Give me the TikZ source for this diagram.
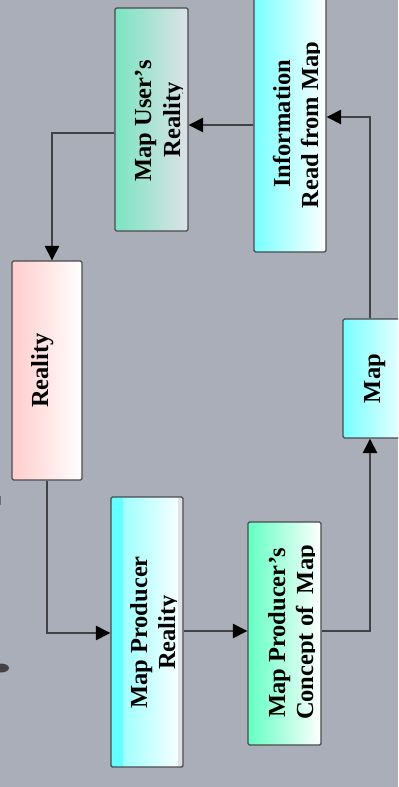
\documentclass[tikz,border=0pt]{standalone}
\usepackage{fontspec}
\setmainfont{Liberation Serif}
\usetikzlibrary{arrows.meta}
\definecolor{bg}{RGB}{170,174,185}
\definecolor{edge}{RGB}{74,74,78}
\definecolor{wire}{RGB}{66,66,70}
\definecolor{murL}{RGB}{122,228,194}
\definecolor{murR}{RGB}{222,226,230}
\definecolor{cyL}{RGB}{120,255,255}
\definecolor{cyStrip}{RGB}{100,255,255}
\definecolor{cyL2}{RGB}{140,255,255}
\definecolor{greyStrip}{RGB}{222,226,232}
\definecolor{pinkL}{RGB}{255,205,205}
\definecolor{aquaL}{RGB}{100,255,195}
\begin{document}
\begin{tikzpicture}[x=1bp,y=-1bp,
  boxsty/.style={draw=edge, line width=1.4bp, rounded corners=1.5bp, inner sep=0pt},
  lbl/.style={font=\fontsize{24.5bp}{29bp}\selectfont\bfseries, inner sep=0pt, text=black, rotate=90, anchor=base},
  arr/.style={draw=wire, line width=1.4bp, -{Triangle[length=14.5bp,width=14.5bp,color=black]}}]
\clip (0,0) rectangle (398,787);
\fill[bg] (0,0) rectangle (398,787);
% stray marks at left edge
\fill[wire] (1,668) ellipse [x radius=8bp, y radius=4.5bp];
\draw[wire!60!bg, line width=1bp] (0.5,496) -- (0.5,505);
% boxes
\node[boxsty, minimum width=73bp, minimum height=223bp, left color=murL, right color=murR] (mur) at (151.5,119.5) {};
\node[boxsty, minimum width=72bp, minimum height=258bp, left color=cyL, right color=white] (info) at (290,123) {};
\node[boxsty, minimum width=70bp, minimum height=219bp, left color=pinkL, right color=white] (real) at (47,370.5) {};
\node[boxsty, minimum width=72bp, minimum height=270bp, left color=cyL2, right color=white,
  path picture={
    \fill[cyStrip] (path picture bounding box.south west) rectangle ([xshift=12bp]path picture bounding box.north west);
    \fill[greyStrip] ([xshift=-5bp]path picture bounding box.south east) rectangle (path picture bounding box.north east);
  }] (mpr) at (147,632) {};
\node[boxsty, minimum width=73bp, minimum height=223bp, left color=aquaL, right color=white] (mpc) at (284.5,633.5) {};
\node[boxsty, minimum width=70bp, minimum height=119bp, left color=cyL, right color=white] (map) at (378,378.5) {};
% texts
\begin{scope}
  \clip (110,0) rectangle (182.5,240);
  \node[lbl] (mur-a) at (151,121) {Map User’s};
  \node[lbl] (mur-b) at (180,120) {Reality};
\end{scope}
\begin{scope}
  \clip (250,0) rectangle (319.5,260);
  \node[lbl] (info-a) at (290,124) {Information};
  \node[lbl] (info-b) at (318,125) {Read from Map};
\end{scope}
\node[lbl] (real-a) at (48,370.5) {Reality};
\begin{scope}
  \clip (105,490) rectangle (176.5,775);
  \node[lbl] (mpr-a) at (147,632.5) {Map Producer};
  \node[lbl] (mpr-b) at (175,632.5) {Reality};
\end{scope}
\begin{scope}
  \clip (240,515) rectangle (314.5,750);
  \node[lbl] (mpc-a) at (285,633) {Map Producer’s};
  \node[lbl] (mpc-b) at (313,632.5) {Concept of\ \ Map};
\end{scope}
\node[lbl] (map-a) at (380,378.5) {Map};
% connectors
\coordinate (k1) at (52,133);
\coordinate (k2) at (220,125);
\coordinate (k3) at (47,633);
\coordinate (k4) at (215,631);
\coordinate (k5) at (370,631);
\coordinate (k6) at (370,117);
\draw[arr] (info.west |- k2) -- (mur.east |- k2);
\draw[arr] (mur.west |- k1) -| (real.north -| k1);
\draw[arr] (real.south) |- (mpr.west |- k3);
\draw[arr] (mpr.east |- k4) -- (mpc.west |- k4);
\draw[arr] (mpc.east |- k5) -| (map.south -| k5);
\draw[arr] (map.north -| k6) |- (info.east |- k6);
\end{tikzpicture}
\end{document}
